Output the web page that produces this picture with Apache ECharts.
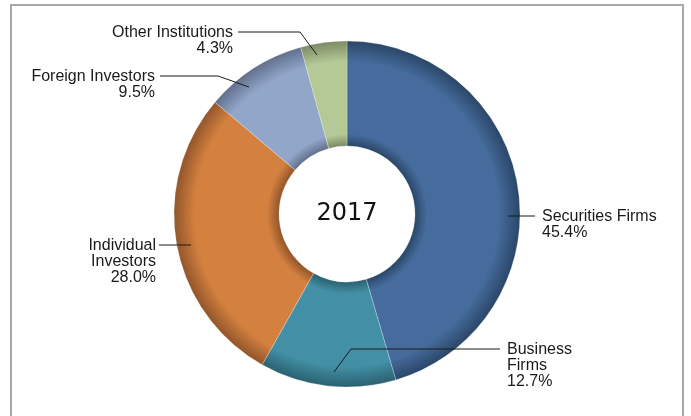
<!DOCTYPE html>
<html>
<head>
  <meta charset="utf-8" />
  <title>2017</title>
  <script src="https://cdn.jsdelivr.net/npm/echarts@6/dist/echarts.min.js"></script>
  <style>
    html, body { margin: 0; padding: 0; background: #fff; }
  </style>
</head>
<body>
<div id="main" style="width: 691px;height:416px;"></div>
<script type="text/javascript">
  // data
  var categories = ['Securities Firms', 'Business\nFirms', 'Individual\nInvestors', 'Foreign Investors', 'Other Institutions'];
  var shares = [45.4, 12.7, 28.0, 9.5, 4.3];
  var yearLabel = '2017';

  // colours, darker shade for the edges
  var baseColors = ['#456c9c', '#4390a6', '#d48140', '#92a6c9', '#b5c996'];
  var edgeColors = ['#2b4668', '#2a6170', '#92552a', '#61708c', '#7c8b66'];

  // where each label goes: text anchor + leader line
  var labelPos = [
    { x: 542, y: 209, align: 'left',  line: [[508, 216], [535, 216]] },
    { x: 507, y: 342, align: 'left',  line: [[334, 372], [351, 349], [500, 349]] },
    { x: 156, y: 238, align: 'right', line: [[191, 245], [159, 245]] },
    { x: 155, y: 69,  align: 'right', line: [[249, 87], [218, 76], [160, 76]] },
    { x: 233, y: 25,  align: 'right', line: [[317, 55], [300, 32], [238, 32]] }
  ];

  var cx = 347, cy = 214, rIn = 68, rOut = 173;

  var pieData = categories.map(function (name, i) {
    return {
      name: name,
      value: shares[i],
      itemStyle: {
        color: new echarts.graphic.RadialGradient(cx, cy, rOut, [
          { offset: rIn / rOut, color: edgeColors[i] },
          { offset: rIn / rOut + 0.07, color: baseColors[i] },
          { offset: 0.88, color: baseColors[i] },
          { offset: 1, color: edgeColors[i] }
        ], true)
      }
    };
  });

  // leader lines drawn on top of the ring
  var leaderLines = labelPos.map(function (lp) {
    return {
      type: 'polyline',
      shape: { points: lp.line },
      style: { stroke: '#1a1a1a', lineWidth: 1, fill: 'none' },
      z: 100
    };
  });

  var myChart = echarts.init(document.getElementById('main'));
  var option = {
    animation: false,
    graphic: [
      {
        type: 'rect',
        shape: { x: 11, y: 5, width: 672, height: 430 },
        style: { fill: 'none', stroke: '#a8a8a8', lineWidth: 2 },
        z: -1
      },
      {
        type: 'text',
        x: cx,
        y: cy,
        style: {
          text: yearLabel,
          fontSize: 24,
          fontFamily: 'DejaVu Sans',
          fill: '#111',
          align: 'center',
          verticalAlign: 'middle'
        }
      }
    ].concat(leaderLines),
    series: [
      {
        type: 'pie',
        center: [cx, cy],
        radius: [rIn, rOut],
        startAngle: 90,
        clockwise: true,
        data: pieData,
        itemStyle: { borderColor: 'rgba(255,255,255,0.5)', borderWidth: 0.5 },
        emphasis: { disabled: true },
        label: {
          show: true,
          position: 'outside',
          overflow: 'none',
          fontFamily: 'Liberation Sans',
          fontSize: 16,
          lineHeight: 16,
          color: '#1a1a1a',
          formatter: function (p) {
            return p.name + '\n' + p.value.toFixed(1) + '%';
          }
        },
        labelLine: { show: false },
        labelLayout: function (params) {
          var lp = labelPos[params.dataIndex];
          return {
            x: lp.x,
            y: lp.y,
            align: lp.align,
            verticalAlign: 'top'
          };
        }
      }
    ]
  };
  myChart.setOption(option);
</script>
</body>
</html>
